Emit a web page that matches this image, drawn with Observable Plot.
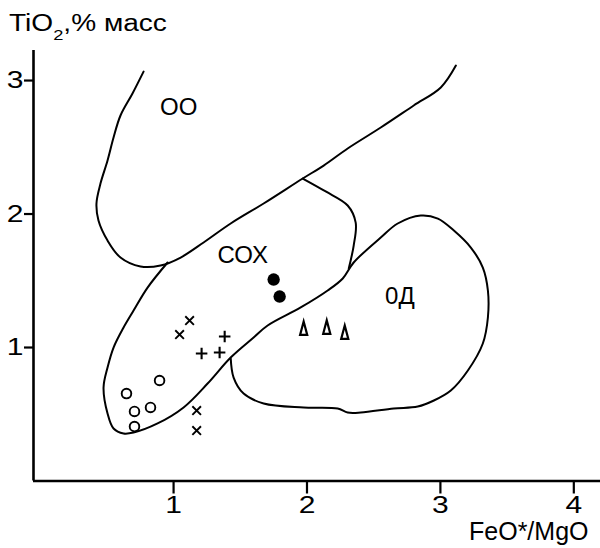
<!DOCTYPE html>
<html>
<head>
<meta charset="utf-8">
<script src="https://cdn.jsdelivr.net/npm/d3@7"></script>
<script src="https://cdn.jsdelivr.net/npm/@observablehq/plot@0.6"></script>
<style>
  body { margin: 0; background: white; }
  #wrap { position: relative; width: 600px; height: 548px; overflow: hidden; background: white; }
  #title { position: absolute; left: 9px; top: 12px; z-index: 2; font-family: "Liberation Sans", Arial, sans-serif;
           font-size: 23px; line-height: 23px; white-space: nowrap; transform: scaleX(1.22); transform-origin: left top; color: black; }
  #title sub { font-size: 15px; vertical-align: -9px; line-height: 0; }
  #wrap svg { position: absolute; left: 0; top: 0; }
</style>
</head>
<body>
<div id="wrap"><div id="title">TiO<sub>2</sub>,% масс</div></div>
<script>
// ---- axis ticks ----
const xTicks = [1, 2, 3, 4];
const yTicks = [1, 2, 3];

// ---- field boundaries (FeO*/MgO, TiO2) ----
const ooCurve = [
  [0.775,3.067],[0.692,2.903],[0.602,2.738],[0.550,2.573],[0.505,2.401],[0.452,2.228],
  [0.422,2.079],[0.437,1.951],[0.505,1.801],[0.602,1.674],[0.752,1.607],[0.902,1.614],
  [1.053,1.674],[1.225,1.787],[1.428,1.929],[1.675,2.079],[1.968,2.266],[2.125,2.363],
  [2.305,2.491],[2.553,2.648],[2.800,2.813],[3.003,2.948],[3.116,3.112]
];
const coxRight = [
  [1.968,2.266],[2.140,2.169],[2.305,2.064],[2.365,1.936],[2.350,1.764],[2.313,1.592]
];
const coxOdLoop = [
  [0.955,1.637],[0.805,1.449],[0.700,1.277],[0.625,1.150],[0.550,1.000],[0.505,0.850],
  [0.475,0.700],[0.505,0.506],[0.550,0.393],[0.625,0.356],[0.700,0.363],[0.880,0.431],
  [1.075,0.551],[1.255,0.730],[1.428,0.925],[1.600,1.075],[1.705,1.165],[1.953,1.300],
  [2.155,1.427],[2.268,1.517],[2.350,1.637],[2.553,1.824],[2.680,1.929],[2.853,1.989],
  [2.981,1.966],[3.101,1.876],[3.228,1.749],[3.318,1.599],[3.356,1.427],[3.356,1.225],
  [3.318,1.030],[3.206,0.828],[3.078,0.678],[2.951,0.603],[2.830,0.558],[2.650,0.543],
  [2.403,0.513],[2.305,0.513],[2.230,0.543],[1.975,0.551],[1.675,0.581],[1.525,0.655],
  [1.450,0.775],[1.428,0.925]
];

// ---- samples ----
const circX = [0.895, 0.647, 0.827, 0.707, 0.707];
const circY = [0.753, 0.655, 0.551, 0.521, 0.408];
const timesX = [1.120, 1.045, 1.173, 1.173];
const timesY = [1.202, 1.097, 0.528, 0.378];
const plusX = [1.383, 1.210, 1.345];
const plusY = [1.082, 0.955, 0.963];
const dotX = [1.750, 1.795];
const dotY = [1.509, 1.382];
const triX = [1.975, 2.148, 2.283];
const triY = [1.142, 1.150, 1.112];

// ---- field labels ----
const fieldNames = ["ОО", "СОХ", "0Д"];
const fieldX = [1.038, 1.518, 2.696];
const fieldY = [2.798, 1.689, 1.386];

const xLabel = "FeO*/MgO";

const pts = (xs, ys) => xs.map((x, i) => ({x, y: ys[i]}));
const labels = fieldNames.map((t, i) => ({t, x: fieldX[i], y: fieldY[i]}));

// tall narrow open triangle symbol
const tallTriangle = {
  draw(context, size) {
    const s = Math.sqrt(size / Math.PI);
    context.moveTo(0, -1.7 * s);
    context.lineTo(0.85 * s, 1.5 * s);
    context.lineTo(-0.85 * s, 1.5 * s);
    context.closePath();
  }
};

const P = d => d[0], Q = d => d[1];

const chart = Plot.plot({
  width: 600,
  height: 548,
  marginLeft: 33,
  marginRight: 0,
  marginTop: 50,
  marginBottom: 67.5,
  x: {domain: [-0.05, 4.2]},
  y: {domain: [0, 3.225]},
  style: {fontFamily: "Liberation Sans, Arial, sans-serif", fontSize: "24px", color: "black", background: "white", overflow: "visible"},
  marks: [
    Plot.axisX({ticks: xTicks, tickFormat: d => String(d), tickSize: 13, tickPadding: 2, strokeWidth: 2.2, label: null, fontSize: 24}),
    Plot.axisY({ticks: yTicks, tickFormat: d => String(d), tickSize: 9, tickPadding: 1, strokeWidth: 2.2, label: null, fontSize: 24}),
    Plot.ruleX([-0.05], {strokeWidth: 2.6}),
    Plot.ruleY([0], {strokeWidth: 2.6}),
    Plot.line(ooCurve, {x: P, y: Q, curve: "catmull-rom", strokeWidth: 2, stroke: "black"}),
    Plot.line(coxRight, {x: P, y: Q, curve: "catmull-rom", strokeWidth: 2, stroke: "black"}),
    Plot.line(coxOdLoop, {x: P, y: Q, curve: "catmull-rom", strokeWidth: 2, stroke: "black"}),
    Plot.dot(pts(circX, circY), {x: "x", y: "y", r: 4.8, stroke: "black", strokeWidth: 1.9, fill: "white"}),
    Plot.dot(pts(timesX, timesY), {x: "x", y: "y", r: 4, symbol: "times", stroke: "black", strokeWidth: 1.9}),
    Plot.dot(pts(plusX, plusY), {x: "x", y: "y", r: 3.8, symbol: "plus", stroke: "black", strokeWidth: 2.1}),
    Plot.dot(pts(dotX, dotY), {x: "x", y: "y", r: 6.2, fill: "black", stroke: "none"}),
    Plot.dot(pts(triX, triY), {x: "x", y: "y", r: 4.2, symbol: tallTriangle, stroke: "black", strokeWidth: 2.2, fill: "none"}),
    Plot.text(labels, {x: "x", y: "y", text: "t", fontSize: 24, fill: "black", ariaLabel: "field labels"}),
    Plot.text([xLabel], {text: d => d, frameAnchor: "bottom-right", textAnchor: "end", dx: -12, dy: 59, fontSize: 25, fill: "black", ariaLabel: "x label"})
  ]
});

const wrap = document.getElementById("wrap");
wrap.appendChild(chart);

function stretch(sel, k) {
  chart.querySelectorAll(sel).forEach(t => {
    const L = t.getComputedTextLength();
    t.setAttribute("textLength", (L * k).toFixed(1));
    t.setAttribute("lengthAdjust", "spacingAndGlyphs");
  });
}
stretch('g[aria-label="x-axis tick label"] text', 1.25);
stretch('g[aria-label="y-axis tick label"] text', 1.25);
stretch('g[aria-label="field labels"] text', 1.1);
stretch('g[aria-label="x label"] text', 1.17);
</script>
</body>
</html>
